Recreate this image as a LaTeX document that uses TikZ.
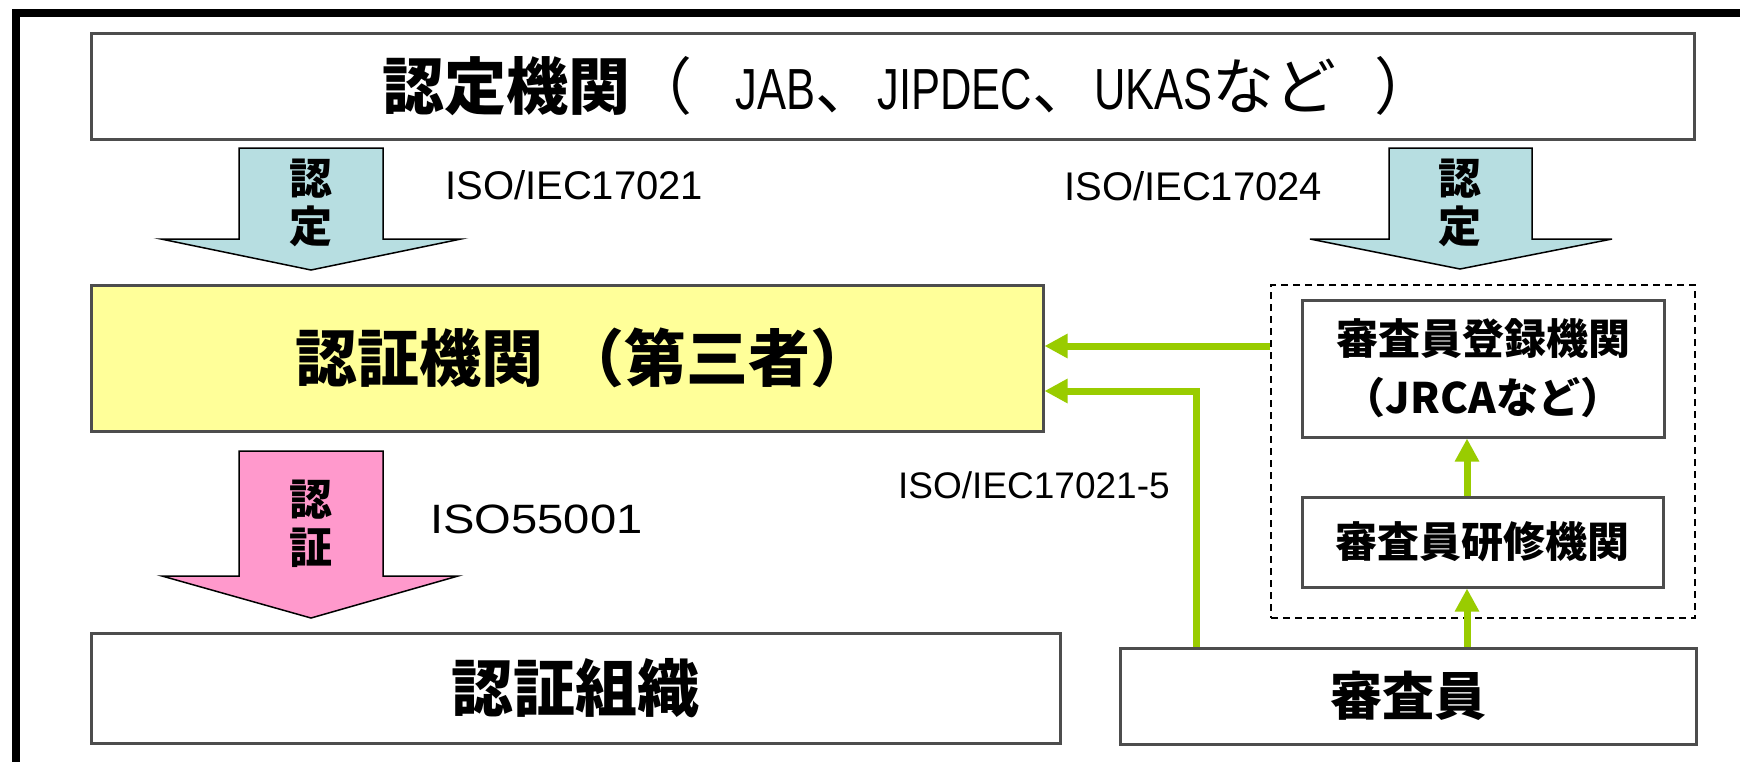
\documentclass[tikz,border=0pt]{standalone}
\usepackage{fontspec}
\setmainfont{Liberation Sans}
\newfontfamily\jp{Noto Sans CJK JP}
\newfontfamily\widesans{Liberation Sans}[FakeStretch=1.15]
\newfontfamily\tlat{Liberation Sans}[FakeStretch=0.75]
\usetikzlibrary{arrows.meta}
\definecolor{boxgray}{HTML}{4D4D4D}
\definecolor{ygreen}{HTML}{99CC00}
\definecolor{paleblue}{HTML}{B7DEE1}
\definecolor{certpink}{HTML}{FF99CC}
\definecolor{paleyellow}{HTML}{FFFF99}
\newcommand{\lat}[1]{{\tlat\mdseries\fontsize{58}{64}\selectfont #1}}
\newcommand{\jpreg}[1]{{\mdseries #1}}
\begin{document}
\begin{tikzpicture}[x=1pt,y=-1pt,
  box/.style={draw=boxgray, line width=3pt, fill=white, inner sep=0pt, align=center},
  bigjp/.style={font=\jp\bfseries\fontsize{62}{70}\selectfont},
  midjp/.style={font=\jp\bfseries\fontsize{42}{59}\selectfont},
  arrowlbl/.style={font=\jp\bfseries\fontsize{43}{48}\selectfont, align=center, inner sep=0pt},
  blockarrow/.style={draw=black, line width=1.5pt, line join=miter},
  isolbl/.style={inner sep=0pt, anchor=base west},
  garrow/.style={draw=ygreen, line width=7pt, -{Triangle[length=23pt,width=23pt]}},
  groupbox/.style={draw=black, line width=2pt, dash pattern=on 7pt off 5pt, inner sep=0pt}
]
\useasboundingbox (0,0) rectangle (1740,761);
\fill[white] (0,0) rectangle (1740,761);
\begin{scope}
  \clip (0,0) rectangle (1740,761);
  \draw[line width=8pt] (16,800) -- (16,13) -- (1800,13);
\end{scope}

% boxes
\node[box, bigjp, minimum width=1603, minimum height=106] (accr) at (892.5,86)
  {\hspace*{34pt}認定機関\jpreg{（}\hspace{43pt}\lat{JAB}\jpreg{、}\lat{JIPDEC}\jpreg{、}\lat{UKAS}\jpreg{など}\hspace{38pt}\jpreg{）}};
\node[box, bigjp, fill=paleyellow, minimum width=952, minimum height=146] (cb) at (567,358)
  {\hspace*{34pt}\raisebox{-6pt}{認証機関\hspace{20pt}（第三者）}};
\node[box, bigjp, minimum width=969, minimum height=110] (org) at (575.5,688) {認証組織};
\node[box, font=\jp\bfseries\fontsize{52}{60}\selectfont, minimum width=576, minimum height=96] (aud) at (1408,696) {審査員};
\node[groupbox, minimum width=424, minimum height=333] (grp) at (1483,451.5) {};
\node[box, midjp, minimum width=362, minimum height=137] (reg) at (1483,368.5) {審査員登録機関\\（JRCAなど）};
\node[box, midjp, minimum width=361, minimum height=90] (train) at (1482.5,542) {審査員研修機関};

% block arrows
\path[blockarrow, fill=paleblue] (239,148) -- (383,148) -- (383,239) -- (461,239) -- (311,270) -- (161,239) -- (239,239) -- cycle;
\path[blockarrow, fill=paleblue] (1389,148) -- (1532,148) -- (1532,239) -- (1612,239) -- (1460,269) -- (1310,239) -- (1389,239) -- cycle;
\path[blockarrow, fill=certpink] (239,451) -- (383,451) -- (383,576) -- (458,576) -- (311,618) -- (162,576) -- (239,576) -- cycle;
\node[arrowlbl] (lblL) at (311,203) {認\\定};
\node[arrowlbl] (lblR) at (1460,203) {認\\定};
\node[arrowlbl] (lblP) at (311,524) {認\\証};

% standard labels
\node[isolbl, font=\fontsize{40}{48}\selectfont] (iso1) at (445,199) {ISO/IEC17021};
\node[isolbl, font=\fontsize{40}{48}\selectfont] (iso2) at (1064,200) {ISO/IEC17024};
\node[isolbl, font=\widesans\fontsize{41}{48}\selectfont] (iso3) at (430,533) {ISO55001};
\node[isolbl, font=\fontsize{37}{44}\selectfont] (iso4) at (898,498) {ISO/IEC17021-5};

% green connectors
\coordinate (ya) at (0,346);
\coordinate (yb) at (0,391);
\coordinate (xa) at (1196,0);
\coordinate (xb) at (1467,0);
\draw[garrow] (grp.west |- ya) -- (cb.east |- ya);
\draw[garrow] (aud.north -| xa) |- (cb.east |- yb);
\draw[garrow] (train.north -| xb) -- (reg.south -| xb);
\draw[garrow] (aud.north -| xb) -- (train.south -| xb);
\end{tikzpicture}
\end{document}
